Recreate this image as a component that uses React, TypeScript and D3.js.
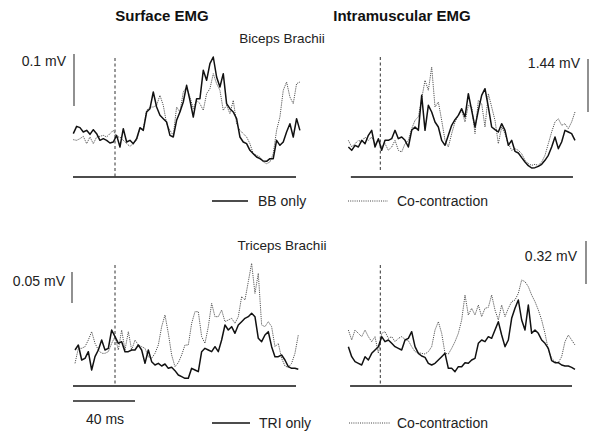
import React from 'react';
import * as d3 from 'd3';

// Sampling step (ms) of traces
const STEP_MS = 2.15;

// Trace start times (ms relative to movement onset, dashed line)
const startBBSurface = -26.9;
const startBBIntra = -20.6;
const startTRISurface = -25.8;
const startTRIIntra = -20.6;

// Amplitudes (arbitrary units, 300 units ~ 100 px)
const bbSurfaceOnly = [130,152,148,135,140,128,142,130,110,115,110,102,105,125,90,145,105,110,100,115,148,140,195,205,255,210,185,175,165,125,120,170,195,225,275,230,180,235,235,320,290,340,360,300,270,310,220,205,195,175,120,105,100,80,70,60,55,48,47,55,55,110,95,105,135,160,120,175,140];
const bbSurfaceCo = [112,110,115,122,100,120,100,120,122,125,120,130,140,120,120,110,100,92,100,110,145,145,200,210,210,215,245,215,160,140,125,210,195,255,270,240,205,230,220,200,250,265,310,280,260,200,215,190,230,160,140,130,120,100,70,65,60,45,40,45,70,140,180,260,285,240,220,280,285];

const bbIntraOnly = [90,80,95,90,110,100,125,140,90,115,80,110,110,115,140,115,120,110,90,140,150,140,245,140,215,195,165,150,110,95,125,155,172,185,205,180,250,200,150,200,245,265,210,150,142,135,160,140,95,110,77,72,58,45,34,27,28,32,38,50,65,90,120,85,105,140,135,130,110];
const bbIntraCo = [110,90,100,110,105,120,110,120,100,110,90,100,80,90,110,80,75,100,110,145,170,180,235,290,260,330,210,225,170,110,90,130,165,185,200,165,215,210,130,230,220,150,250,210,170,100,150,130,100,80,85,80,70,50,40,35,38,35,45,65,100,135,165,175,155,160,145,165,195];

const triSurfaceOnly = [108,123,78,83,103,48,88,108,138,108,113,168,148,128,133,103,103,108,108,123,108,68,108,73,63,68,60,66,53,56,46,33,28,23,23,53,48,43,103,113,108,103,118,103,138,183,168,178,158,183,193,203,208,218,208,143,133,153,163,118,88,88,93,78,58,53,53,50];
const triSurfaceCo = [68,113,113,118,138,163,128,108,98,98,103,128,148,108,168,108,163,108,138,123,118,113,88,83,98,123,178,213,158,93,58,70,93,123,123,188,223,223,148,128,178,248,208,208,228,193,198,203,188,208,268,258,313,368,278,338,183,178,193,178,118,128,83,60,56,68,98,153];

const triIntraOnly = [118,88,73,68,63,88,78,98,108,118,148,133,138,128,118,113,108,138,143,163,118,98,90,86,68,63,68,78,88,98,53,53,43,58,58,70,68,78,83,128,138,133,148,143,168,193,153,118,138,203,233,258,198,168,243,158,168,158,138,128,113,76,70,70,63,60,60,56,50];
const triIntraCo = [168,138,168,158,148,168,148,133,148,98,158,163,143,148,133,143,148,140,136,118,103,100,98,96,103,118,168,193,158,98,96,113,133,158,198,273,213,233,213,243,208,233,236,273,228,198,243,208,233,253,258,278,318,313,298,273,253,228,198,158,108,83,73,70,88,133,153,138,123];

// Scale bars (in the same amplitude units) and labels
const scaleBarValues = [156, 159, 93, 129];
const scaleBarLabels = ['0.1 mV', '1.44 mV', '0.05 mV', '0.32 mV'];
const timeBarMs = 40;

const columnTitles = ['Surface EMG', 'Intramuscular EMG'];
const muscleTitles = ['Biceps Brachii', 'Triceps Brachii'];
const legendSolid = ['BB only', 'TRI only'];
const legendDotted = 'Co-contraction';

const FONT = '"Liberation Sans", Arial, Helvetica, sans-serif';

type Panel = {
  solid: number[];
  dotted: number[];
  start: number;
  onsetX: number;
  baseline: number;
  axisMs: [number, number];
  onsetTop: number;
  onsetBottom: number;
  barX: number;
  barBottom: number;
  barValue: number;
  barLabel: string;
  labelX: number;
  labelY: number;
};

const panels: Panel[] = [
  { solid: bbSurfaceOnly, dotted: bbSurfaceCo, start: startBBSurface, onsetX: 115, baseline: 177, axisMs: [-27.1, 116.8], onsetTop: 58, onsetBottom: 177, barX: 74, barBottom: 106, barValue: scaleBarValues[0], barLabel: scaleBarLabels[0], labelX: 66, labelY: 66 },
  { solid: bbIntraOnly, dotted: bbIntraCo, start: startBBIntra, onsetX: 380.3, baseline: 177, axisMs: [-19, 124.3], onsetTop: 57, onsetBottom: 172, barX: 588, barBottom: 112, barValue: scaleBarValues[1], barLabel: scaleBarLabels[1], labelX: 580, labelY: 68 },
  { solid: triSurfaceOnly, dotted: triSurfaceCo, start: startTRISurface, onsetX: 115, baseline: 386, axisMs: [-27.1, 116.8], onsetTop: 265, onsetBottom: 386, barX: 72, barBottom: 303, barValue: scaleBarValues[2], barLabel: scaleBarLabels[2], labelX: 65, labelY: 286 },
  { solid: triIntraOnly, dotted: triIntraCo, start: startTRIIntra, onsetX: 380.3, baseline: 386, axisMs: [-19.5, 123.7], onsetTop: 265, onsetBottom: 384, barX: 586, barBottom: 284, barValue: scaleBarValues[3], barLabel: scaleBarLabels[3], labelX: 577, labelY: 261 },
];

function PanelView({ p }: { p: Panel }) {
  const x = d3.scaleLinear().domain([0, timeBarMs]).range([p.onsetX, p.onsetX + 62]);
  const y = d3.scaleLinear().domain([0, 300]).range([p.baseline, p.baseline - 100]);
  const line = d3
    .line<number>()
    .x((_, i) => x(p.start + i * STEP_MS))
    .y((d) => y(d))
    .curve(d3.curveLinear);
  const barLen = y(0) - y(p.barValue);
  return (
    <g>
      <line x1={x(p.axisMs[0])} x2={x(p.axisMs[1])} y1={p.baseline} y2={p.baseline} stroke="#111" strokeWidth={1.6} />
      <line x1={p.onsetX} x2={p.onsetX} y1={p.onsetTop} y2={p.onsetBottom} stroke="#333" strokeWidth={1} strokeDasharray="3,2.5" />
      <path d={line(p.dotted) || ''} fill="none" stroke="#555" strokeWidth={1} strokeDasharray="1.2,1" />
      <path d={line(p.solid) || ''} fill="none" stroke="#111" strokeWidth={1.5} strokeLinejoin="round" />
      <line x1={p.barX} x2={p.barX} y1={p.barBottom} y2={p.barBottom - barLen} stroke="#555" strokeWidth={1.3} />
      <text x={p.labelX} y={p.labelY} fontSize={14} fontFamily={FONT} fill="#222" textAnchor="end">{p.barLabel}</text>
    </g>
  );
}

export default function App() {
  const tx = d3.scaleLinear().domain([0, timeBarMs]).range([73, 135]);
  return (
    <svg width={600} height={438} style={{ position: 'absolute', left: 0, top: 0, background: '#fff' }}>
      <rect width={600} height={438} fill="#fff" />
      <text x={162} y={21} fontSize={15} fontWeight="bold" fontFamily={FONT} textAnchor="middle" fill="#111">{columnTitles[0]}</text>
      <text x={402} y={21} fontSize={15} fontWeight="bold" fontFamily={FONT} textAnchor="middle" fill="#111">{columnTitles[1]}</text>
      <text x={282} y={43} fontSize={13.5} fontFamily={FONT} textAnchor="middle" fill="#222">{muscleTitles[0]}</text>
      <text x={282} y={250} fontSize={13.5} fontFamily={FONT} textAnchor="middle" fill="#222">{muscleTitles[1]}</text>
      {panels.map((p, i) => (
        <PanelView key={i} p={p} />
      ))}
      {/* top legend */}
      <line x1={212} x2={248} y1={201} y2={201} stroke="#111" strokeWidth={1.6} />
      <text x={258} y={206} fontSize={14} fontFamily={FONT} fill="#222">{legendSolid[0]}</text>
      <line x1={348} x2={388} y1={201} y2={201} stroke="#444" strokeWidth={1} strokeDasharray="1,1.2" />
      <text x={397} y={206} fontSize={14} fontFamily={FONT} fill="#222">{legendDotted}</text>
      {/* time scale bar */}
      <line x1={tx(0)} x2={tx(timeBarMs)} y1={401} y2={401} stroke="#222" strokeWidth={1.4} />
      <text x={86} y={424} fontSize={14} fontFamily={FONT} fill="#222">{`${timeBarMs} ms`}</text>
      {/* bottom legend */}
      <line x1={212} x2={250} y1={423} y2={423} stroke="#111" strokeWidth={1.6} />
      <text x={259} y={428} fontSize={14} fontFamily={FONT} fill="#222">{legendSolid[1]}</text>
      <line x1={349} x2={390} y1={423} y2={423} stroke="#444" strokeWidth={1} strokeDasharray="1,1.2" />
      <text x={397} y={428} fontSize={14} fontFamily={FONT} fill="#222">{legendDotted}</text>
    </svg>
  );
}
